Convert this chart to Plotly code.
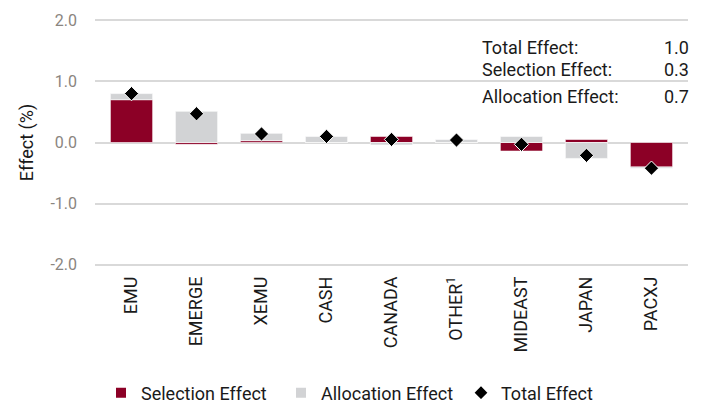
import plotly.graph_objects as go

categories = ["EMU", "EMERGE", "XEMU", "CASH", "CANADA", "OTHER<sup>1</sup>", "MIDEAST", "JAPAN", "PACXJ"]
selection = [0.70, -0.03, 0.03, 0.0, 0.10, 0.0, -0.14, 0.05, -0.40]
allocation = [0.10, 0.51, 0.12, 0.10, -0.04, 0.05, 0.10, -0.26, -0.02]
total = [0.80, 0.47, 0.14, 0.10, 0.05, 0.04, -0.03, -0.21, -0.42]

summary_labels = ["Total Effect:", "Selection Effect:", "Allocation Effect:"]
summary_values = ["1.0", "0.3", "0.7"]
summary_y = [1.56, 1.19, 0.75]

y_tickvals = [-2.0, -1.0, 0.0, 1.0, 2.0]
y_ticktext = ["-2.0", "-1.0", "0.0", "1.0", "2.0"]

RED = "#8c0026"
GRAY = "#d2d3d5"
FONT = "Roboto"
TXT = "#1a1a1a"

fig = go.Figure()
fig.add_trace(go.Bar(x=categories, y=selection, name="Selection Effect",
                     marker=dict(color=RED, line=dict(color="white", width=0.6))))
fig.add_trace(go.Bar(x=categories, y=allocation, name="Allocation Effect",
                     marker=dict(color=GRAY, line=dict(color="white", width=0.6))))
fig.add_trace(go.Scatter(x=categories, y=total, name="Total Effect", mode="markers",
                         marker=dict(symbol="diamond", size=11, color="black",
                                     line=dict(color="white", width=1))))

for lab, val, yy in zip(summary_labels, summary_values, summary_y):
    fig.add_annotation(x=0.65, y=yy, xref="paper", yref="y", text=lab, showarrow=False,
                       xanchor="left", yanchor="middle", font=dict(family=FONT, size=18, color=TXT))
    fig.add_annotation(x=1.005, y=yy, xref="paper", yref="y", text=val, showarrow=False,
                       xanchor="right", yanchor="middle", font=dict(family=FONT, size=18, color=TXT))

fig.update_layout(
    width=701, height=404,
    margin=dict(l=95, r=13, t=19, b=138, autoexpand=False),
    barmode="relative", bargap=0.35,
    plot_bgcolor="white", paper_bgcolor="white",
    font=dict(family=FONT, size=17, color=TXT),
    showlegend=True,
    legend=dict(orientation="h", x=101 / 701, xanchor="left", xref="container",
                y=11 / 404, yanchor="middle", yref="container",
                font=dict(family=FONT, size=18, color=TXT), itemwidth=30,
                itemsizing="constant", entrywidth=135, tracegroupgap=0),
    yaxis=dict(range=[-2.02, 2.02], tickvals=y_tickvals, ticktext=y_ticktext, showgrid=True,
               gridcolor="#d9d9d9", gridwidth=1.5, zeroline=True, zerolinecolor="#d9d9d9",
               zerolinewidth=1.5, ticks="", ticklabelstandoff=17, automargin=False,
               tickfont=dict(family=FONT, size=16, color="#8a8580"),
               title=dict(text="Effect (%)", font=dict(family=FONT, size=18, color=TXT), standoff=12)),
    xaxis=dict(tickangle=-90, showgrid=False, showline=False, ticks="", automargin=False,
               ticklabelstandoff=6,
               tickfont=dict(family=FONT, size=18, color=TXT)),
)

fig.write_html("out.html", config={"displayModeBar": False},
               post_script="document.body.style.margin='0';")
